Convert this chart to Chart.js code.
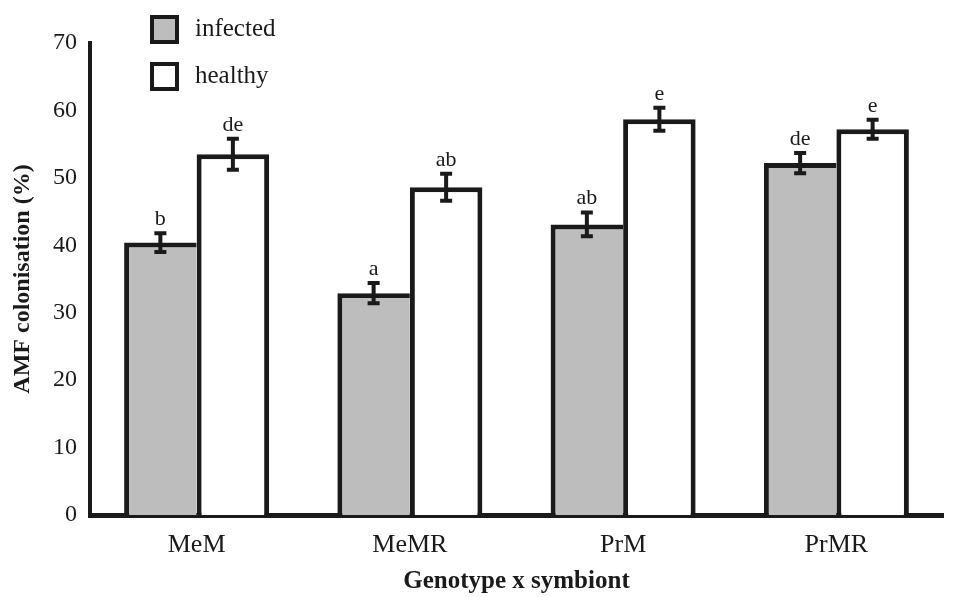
<!DOCTYPE html>
<html>
<head>
<meta charset="utf-8">
<script src="https://cdn.jsdelivr.net/npm/chart.js@4"></script>
<style>
  html, body { margin: 0; padding: 0; background: #fff; }
  #wrap { width: 955px; height: 597px; }
</style>
</head>
<body>
<div id="wrap"><canvas id="chart"></canvas></div>
<script>
const categories = ["MeM", "MeMR", "PrM", "PrMR"];
const infected = [40.4, 32.9, 43.1, 52.2];
const healthy = [53.5, 48.6, 58.7, 57.2];
const infectedErr = [1.4, 1.5, 1.75, 1.5];
const healthyErr = [2.3, 2.0, 1.7, 1.4];
const infectedLetters = ["b", "a", "ab", "de"];
const healthyLetters = ["de", "ab", "e", "e"];

const serif = '"Liberation Serif", "Times New Roman", serif';
const ink = "#1a1a1a";

// error bars + significance letters
const errorBars = {
  id: "errorBars",
  afterDatasetsDraw(chart) {
    const { ctx } = chart;
    const y = chart.scales.y;
    chart.data.datasets.forEach((ds, di) => {
      const meta = chart.getDatasetMeta(di);
      meta.data.forEach((bar, i) => {
        const v = ds.data[i];
        const e = ds.errors[i];
        const top = y.getPixelForValue(v + e);
        const bottom = y.getPixelForValue(v - e);
        ctx.save();
        ctx.strokeStyle = ink;
        ctx.lineWidth = 4;
        ctx.beginPath();
        ctx.moveTo(bar.x, top);
        ctx.lineTo(bar.x, bottom);
        ctx.moveTo(bar.x - 6, top);
        ctx.lineTo(bar.x + 6, top);
        ctx.moveTo(bar.x - 6, bottom);
        ctx.lineTo(bar.x + 6, bottom);
        ctx.stroke();
        ctx.fillStyle = ink;
        ctx.font = "22px " + serif;
        ctx.textAlign = "center";
        ctx.textBaseline = "middle";
        ctx.fillText(ds.letters[i], bar.x, top - 14);
        ctx.restore();
      });
    });
  },
};

// legend drawn inside the plot, top left
const boxLegend = {
  id: "boxLegend",
  afterDraw(chart) {
    const { ctx, chartArea } = chart;
    const x0 = chartArea.left + 62;
    chart.data.datasets.forEach((ds, i) => {
      const yTop = 17 + i * 47;
      ctx.save();
      ctx.fillStyle = ds.backgroundColor;
      ctx.fillRect(x0, yTop, 25, 25);
      ctx.strokeStyle = ink;
      ctx.lineWidth = 4;
      ctx.strokeRect(x0, yTop, 25, 25);
      ctx.fillStyle = ink;
      ctx.font = "25px " + serif;
      ctx.textAlign = "left";
      ctx.textBaseline = "middle";
      ctx.fillText(ds.label, x0 + 43, yTop + 12);
      ctx.restore();
    });
  },
};

const chartConfig = {
  type: "bar",
  data: {
    labels: categories,
    datasets: [
      {
        label: "infected",
        data: infected,
        errors: infectedErr,
        letters: infectedLetters,
        backgroundColor: "#bdbdbd",
        borderColor: ink,
        borderWidth: { top: 5, left: 5, right: 0, bottom: 0 },
      },
      {
        label: "healthy",
        data: healthy,
        errors: healthyErr,
        letters: healthyLetters,
        backgroundColor: "#ffffff",
        borderColor: ink,
        borderWidth: { top: 5, left: 5, right: 5, bottom: 0 },
      },
    ],
  },
  options: {
    responsive: true,
    maintainAspectRatio: false,
    animation: false,
    layout: { padding: { top: 43, right: 12, bottom: 0, left: 0 } },
    datasets: {
      bar: { categoryPercentage: 0.68, barPercentage: 1.0 },
    },
    plugins: {
      legend: { display: false },
      tooltip: { enabled: false },
    },
    scales: {
      x: {
        z: 1,
        grid: { display: false, drawTicks: false },
        border: { display: true, color: ink, width: 5 },
        ticks: {
          color: ink,
          padding: 15,
          font: { family: serif, size: 26 },
        },
        title: {
          display: true,
          text: "Genotype x symbiont",
          color: ink,
          padding: { top: 0, bottom: 0 },
          font: { family: serif, size: 25, weight: "bold" },
        },
        afterFit(scale) {
          scale.height = 82;
        },
      },
      y: {
        min: 0,
        max: 70,
        grid: { display: false, drawTicks: false },
        border: { display: true, color: ink, width: 4 },
        ticks: {
          stepSize: 10,
          color: ink,
          padding: 13,
          font: { family: serif, size: 24 },
        },
        title: {
          display: true,
          text: "AMF colonisation (%)",
          color: ink,
          padding: { top: 8, bottom: 0 },
          font: { family: serif, size: 24, weight: "bold" },
        },
        afterFit(scale) {
          scale.width = 90;
        },
      },
    },
  },
  plugins: [errorBars, boxLegend],
};

window.addEventListener("DOMContentLoaded", () => {
  new Chart(document.getElementById("chart"), chartConfig);
});
</script>
</body>
</html>
